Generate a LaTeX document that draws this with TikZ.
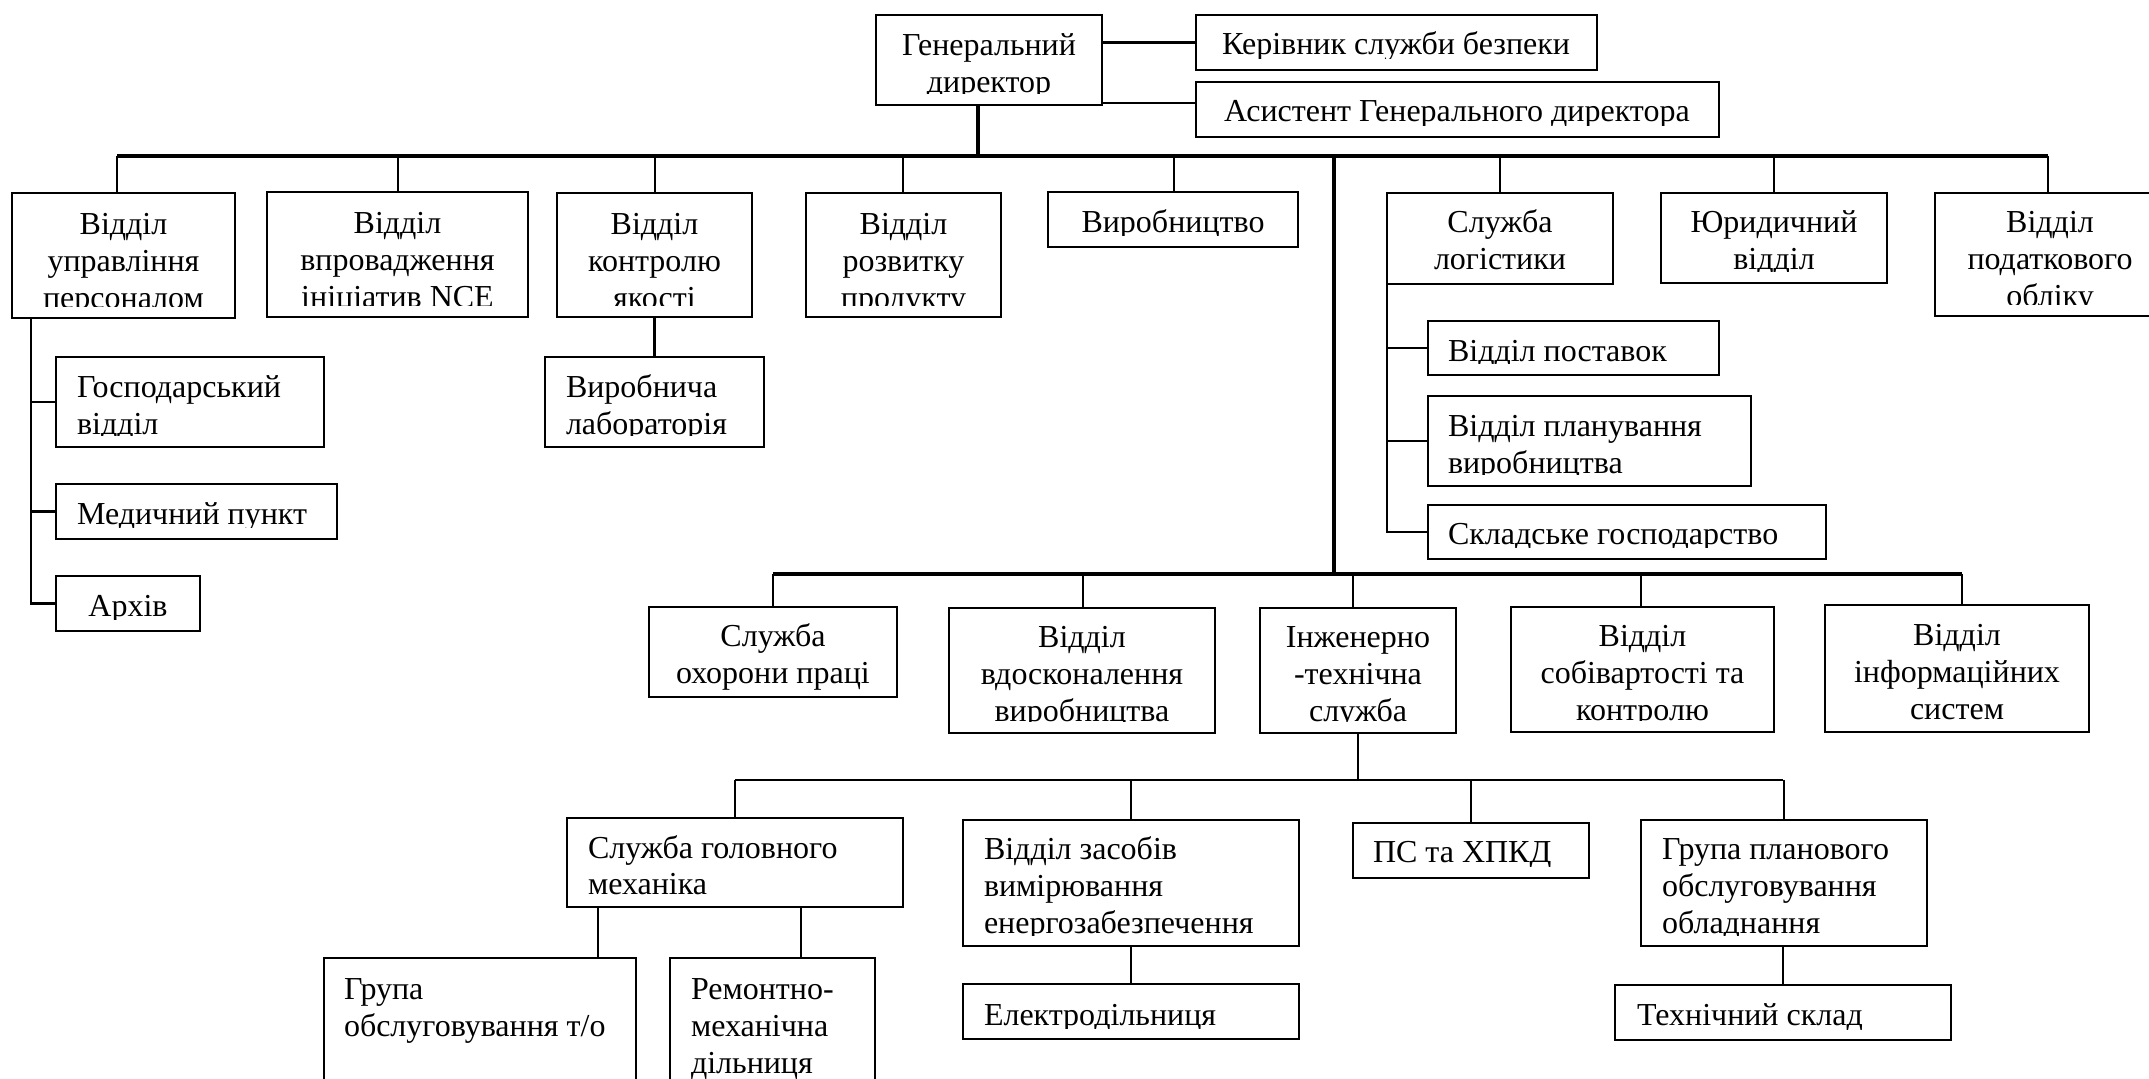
\documentclass[tikz,border=0pt]{standalone}
\usepackage{fontspec}
\setmainfont{Liberation Serif}
\usetikzlibrary{fit}
\tikzset{
  obox/.style={draw, line width=1.1pt, inner sep=0pt, outer sep=0pt},
  conn/.style={line width=1.3pt},
  trunk/.style={line width=1.7pt},
  bar/.style={line width=2pt},
  txt/.style={inner sep=0pt, outer sep=0pt, font=\fontsize{16pt}{18.3pt}\selectfont},
}
% box with centred text: [clip inset], name, x1, y1, x2, y2, baseline, text
\newcommand{\OBC}[8][11]{%
  \node[obox, fit={(#3,#4) (#5,#6)}] (#2) {};
  \begin{scope}\clip (#3,#4) rectangle (#5,{#6-#1});
    \node[txt, anchor=base] (#2t) at ({(#3+#5)/2},#7) {\begin{tabular}[t]{@{}c@{}}#8\end{tabular}};
  \end{scope}}
% box with left-aligned text: [clip inset], name, x1, y1, x2, y2, text x, baseline, text
\newcommand{\OBL}[9][11]{%
  \node[obox, fit={(#3,#4) (#5,#6)}] (#2) {};
  \begin{scope}\clip (#3,#4) rectangle (#5,{#6-#1});
    \node[txt, anchor=base west] (#2t) at (#7,#8) {\begin{tabular}[t]{@{}l@{}}#9\end{tabular}};
  \end{scope}}
\begin{document}
\begin{tikzpicture}[x=0.5pt, y=-0.5pt]
\fill[white] (0,0) rectangle (2149,1079);
\useasboundingbox (0,0) rectangle (2149,1079);

% top
\OBC{gd}{876}{15}{1102}{105}{56}{Генеральний\\директор}
\OBL{ksb}{1196}{15}{1597}{70}{1222}{55}{Керівник служби безпеки}
\OBL{asi}{1196}{82}{1719}{137}{1224}{122}{Асистент Генерального директора}

% first row
\OBC{t1}{12}{193}{235}{318}{235}{Відділ\\управління\\персоналом}
\OBC{t2}{267}{192}{528}{317}{234}{Відділ\\впровадження\\ініціатив NCE}
\OBC{t3}{557}{193}{752}{317}{235}{Відділ\\контролю\\якості}
\OBC{t4}{806}{193}{1001}{317}{235}{Відділ\\розвитку\\продукту}
\OBC{t5}{1048}{192}{1298}{247}{233}{Виробництво}
\OBC{t6}{1387}{193}{1613}{284}{233}{Служба\\логістики}
\OBC{t7}{1661}{193}{1887}{283}{233}{Юридичний\\відділ}
\OBC{t8}{1935}{193}{2165}{316}{233}{Відділ\\податкового\\обліку}

% HR sub-units
\OBL{h1}{56}{357}{324}{447}{77}{398}{Господарський\\відділ}
\OBL{h2}{56}{484}{337}{539}{77}{525}{Медичний пункт}
\OBC{h3}{56}{576}{200}{631}{617}{Архів}
% lab
\OBL{lab}{545}{357}{764}{447}{566}{398}{Виробнича\\лабораторія}
% logistics sub-units
\OBL{l1}{1428}{321}{1719}{375}{1448}{362}{Відділ поставок}
\OBL{l2}{1428}{396}{1751}{486}{1448}{437}{Відділ планування\\виробництва}
\OBL{l3}{1428}{505}{1826}{559}{1448}{545}{Складське господарство}

% second row
\OBC[4]{b1}{649}{607}{897}{697}{647}{Служба\\охорони праці}
\OBC{b2}{949}{608}{1215}{733}{648}{Відділ\\вдосконалення\\виробництва}
\OBC{b3}{1260}{608}{1456}{733}{648}{Інженерно\\-технічна\\служба}
\OBC{b4}{1511}{607}{1774}{732}{647}{Відділ\\собівартості та\\контролю}
\OBC{b5}{1825}{605}{2089}{732}{646}{Відділ\\інформаційних\\систем}

% third row
\OBL{c1}{567}{818}{903}{907}{588}{858}{Служба головного\\механіка}
\OBL{c2}{963}{820}{1299}{946}{984}{860}{Відділ засобів\\вимірювання\\енергозабезпечення}
\OBL{c3}{1353}{823}{1589}{878}{1373}{863}{ПС та ХПКД}
\OBL{c4}{1641}{820}{1927}{946}{1662}{860}{Група планового\\обслуговування\\обладнання}

% fourth row
\OBL{d1}{324}{958}{636}{1110}{344}{1000}{Група\\обслуговування т/о}
\OBL{d2}{670}{958}{875}{1110}{691}{1000}{Ремонтно-\\механічна\\дільниця}
\OBL{d3}{963}{984}{1299}{1039}{984}{1025}{Електродільниця}
\OBL{d4}{1615}{985}{1951}{1040}{1637}{1025}{Технічний склад}

% ---- connectors ----
% general director
\coordinate (mbar) at (978,156);
\draw[trunk] (gd.south -| mbar) -- (mbar);
\draw[conn] (ksb.west -| gd.east) -- (ksb.west);
\coordinate (asiy) at (1150,103);
\draw[conn] (asiy -| gd.east) -- (asiy -| asi.west);

% main bar and drops
\coordinate (mbL) at (117,156);
\coordinate (mbR) at (2048,156);
\draw[bar] (mbL) -- (mbR);
\foreach \n/\x in {t1/117, t2/398, t3/655, t4/903, t5/1174, t6/1500, t7/1774, t8/2048}{
  \coordinate (top\n) at (\x,156);
  \draw[conn] (top\n) -- (top\n |- \n.north);
}

% HR branch
\coordinate (hrx) at (31,0);
\draw[conn] (t1.south -| hrx) |- (h3.west);
\draw[conn] (h1.west -| hrx) -- (h1.west);
\draw[conn] (h2.west -| hrx) -- (h2.west);
% lab
\draw[conn] (t3.south) -- (lab.north);
% logistics branch
\draw[conn] (t6.south west) |- (l3.west);
\draw[conn] (l1.west -| t6.south west) -- (l1.west);
\draw[conn] (l2.west -| t6.south west) -- (l2.west);

% trunk to lower bar
\coordinate (trA) at (1334,156);
\coordinate (trB) at (1334,574);
\draw[trunk] (trA) -- (trB);
\coordinate (lbL) at (773,574);
\coordinate (lbR) at (1962,574);
\draw[bar] (lbL) -- (lbR);
\foreach \n/\x in {b1/773, b2/1083, b3/1353, b4/1641, b5/1962}{
  \coordinate (low\n) at (\x,574);
  \draw[conn] (low\n) -- (low\n |- \n.north);
}

% engineering branch
\coordinate (ebar) at (1358,780);
\draw[conn] (b3.south) -- (ebar);
\coordinate (ebL) at (735,780);
\coordinate (ebR) at (1783,780);
\draw[conn] (ebL) -- (ebR);
\foreach \n in {c1, c2, c3, c4}{
  \draw[conn] (\n.north |- ebar) -- (\n.north);
}

% fourth level
\coordinate (dxa) at (598,0);
\coordinate (dxb) at (801,0);
\draw[conn] (c1.south -| dxa) -- (d1.north -| dxa);
\draw[conn] (c1.south -| dxb) -- (d2.north -| dxb);
\draw[conn] (c2.south) -- (d3.north);
\draw[conn] (c4.south -| ebR) -- (d4.north -| ebR);
\end{tikzpicture}
\end{document}
